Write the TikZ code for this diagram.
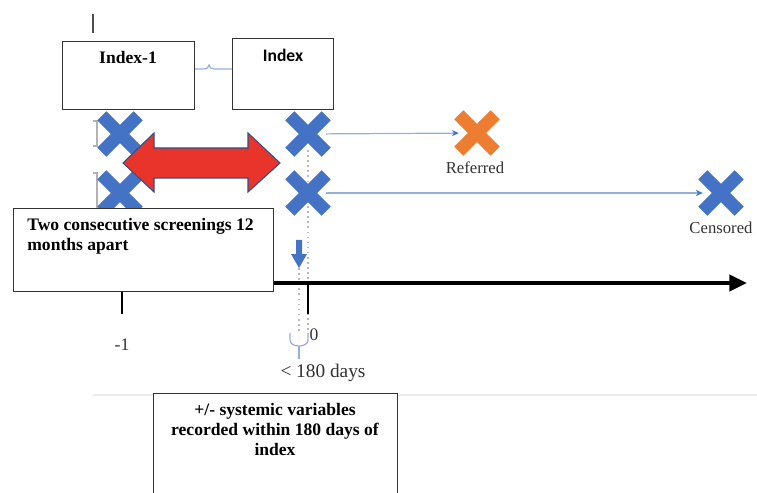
\documentclass[tikz,border=0pt]{standalone}
\usepackage{fontspec}
\setmainfont{Liberation Serif}
\newfontfamily\calibrifont{Carlito}
\usetikzlibrary{shapes.misc,arrows.meta}
\definecolor{xblue}{RGB}{68,114,196}
\definecolor{xorange}{RGB}{237,125,49}
\definecolor{lnblue}{RGB}{150,176,222}
\definecolor{arrred}{RGB}{232,52,42}
\definecolor{txtgray}{RGB}{50,50,50}
\begin{document}
\begin{tikzpicture}[x=0.02cm,y=-0.02cm,
        box/.style={draw=black!80,line width=0.7pt,fill=white,inner sep=0pt,anchor=north west},
        boxtxt/.style={inner sep=0pt,font=\bfseries\fontsize{10}{11.4}\selectfont},
        xcross/.style={cross out,draw=xblue,line width=7.3pt,minimum size=0.47cm,inner sep=0pt},
        lbl/.style={text=txtgray,inner sep=0pt,font=\fontsize{9.5}{11}\selectfont},
        link/.style={draw=lnblue,line width=0.7pt,-{Stealth[length=4pt,width=3.5pt,color=xblue]}}]
    \useasboundingbox (0,0) rectangle (757,493);
    % linee grigie di sfondo
    \draw[black!70,line width=0.6pt] (93,14) -- (93,33);
    \draw[gray!60,line width=0.9pt] (93,121) -| (97,146) -- (93,146);
    \draw[gray!60,line width=0.9pt] (93,173) -| (97,212);
    \draw[gray!15,line width=1.3pt] (93,395) -- (757,395);
    \coordinate (dtop) at (308,150);
    \coordinate (dbot) at (308,333);
    \coordinate (ntop) at (299,268);
    \coordinate (nbot) at (299,333);
    \draw[gray!55,dotted,line width=0.9pt] (dtop) -- (dbot);
    \draw[gray!55,dotted,line width=0.9pt] (ntop) -- (nbot);
    % screenings
    \node[xcross] (pa) at (120,134) {};
    \node[xcross] (pb) at (120,193) {};
    \node[xcross] (ia) at (308,134) {};
    \node[xcross] (ib) at (308,193) {};
    \node[xcross,draw=xorange] (refx) at (477,133) {};
    \node[xcross] (cenx) at (721,193) {};
    \node[lbl] (reflbl) at (475,168) {Referred};
    \node[lbl] (cenlbl) at (721,228) {Censored};
    \draw[link] (ia) -- (refx);
    \draw[link] (ib) -- (cenx);
    % freccia rossa tra le due visite
    \filldraw[fill=arrred,draw=xblue!70!black,line width=0.6pt] (123,163) -- (154,133) -- (154,148)
        -- (248,148) -- (248,133) -- (280,163) -- (248,192) -- (248,178) -- (154,178) -- (154,192) -- cycle;
    \fill[xblue] (296,240) -- (302,240) -- (302,254) -- (307,254) -- (ntop) -- (291,254) -- (296,254) -- cycle;
    % asse del tempo
    \coordinate (axs) at (122,283);
    \coordinate (axe) at (747,283);
    \draw[line width=2.6pt,-{Triangle[length=10pt,width=9pt]}] (axs) -- (axe);
    \draw[line width=1.7pt] (122,283) -- (122,314);
    \draw[line width=1.7pt] (308,283) -- (308,314);
    \node[lbl,font=\fontsize{10}{12}\selectfont] (mone) at (122,345) {-1};
    \node[lbl,font=\fontsize{10}{12}\selectfont] (zero) at (314,335) {0};
    \node[lbl,font=\fontsize{11}{13}\selectfont] (days) at (323,373) {< 180 days};
    \draw[lnblue,line width=0.7pt] (290,333) -- (290,340) to[out=-90,in=180] (299,346)
        to[out=0,in=-90] (308,340) -- (308,333);
    \draw[lnblue,line width=0.7pt] (299,346) -- (299,359);
    % riquadri
    \node[box,minimum width=2.64cm,minimum height=1.36cm] (prevbox) at (62,41) {};
    \node[boxtxt] (prevlbl) at (128,57) {Index-1};
    \node[box,minimum width=2.02cm,minimum height=1.42cm] (idxbox) at (232,38) {};
    \node[boxtxt,font=\calibrifont\bfseries\fontsize{10}{12}\selectfont] (idxlbl) at (283,55) {Index};
    \coordinate (lk) at (210,69);
    \draw[lnblue,line width=0.7pt] (prevbox.east |- lk) -- (204,69) to[out=0,in=-90] (209,65)
        to[out=-90,in=180] (214,69) -- (idxbox.west |- lk);
    \node[box,minimum width=5.2cm,minimum height=1.66cm] (twobox) at (13,208) {};
    \node[boxtxt,anchor=north west,align=left] (twolbl) at (27,218) {Two consecutive screenings 12\\months apart};
    \node[box,minimum width=4.88cm,minimum height=2.3cm] (sysbox) at (153,393) {};
    \node[boxtxt,anchor=north,align=center] (syslbl) at (275,403) {+/- systemic variables\\recorded within 180 days of\\index};
\end{tikzpicture}
\end{document}
